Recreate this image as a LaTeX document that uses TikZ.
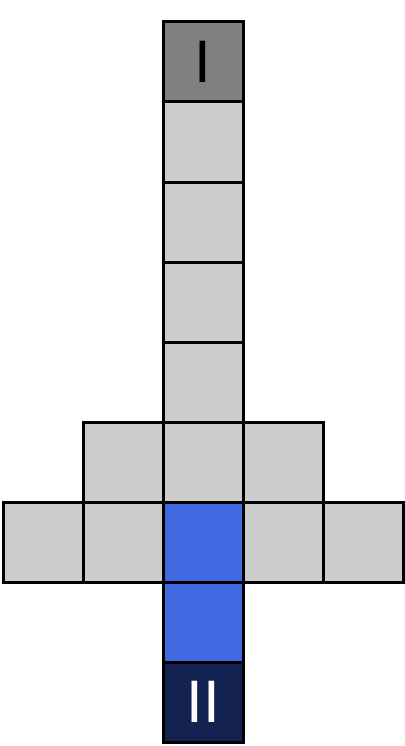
\documentclass[tikz,border=0pt]{standalone}
\usepackage{fontspec}
\setmainfont{Liberation Sans}
\definecolor{lgray}{HTML}{CCCCCC}
\definecolor{dgray}{HTML}{808080}
\definecolor{rblue}{HTML}{4169E1}
\definecolor{navy}{RGB}{19,34,80}
\begin{document}
\begin{tikzpicture}[x=1pt,y=-1pt,
  cell/.style={draw=black,line width=3pt,minimum size=80pt,inner sep=0pt,outer sep=0pt,fill=lgray,font=\fontsize{60}{60}\selectfont},
  topcell/.style={cell,fill=dgray},
  bluecell/.style={cell,fill=rblue},
  navycell/.style={cell,fill=navy,text=white}]
\useasboundingbox (0,0) rectangle (404,746);
\node[cell] (c2) at (203,142) {};
\node[cell] (c3) at (203,222) {};
\node[cell] (c4) at (203,302) {};
\node[cell] (c5) at (203,382) {};
\node[cell] (r6a) at (123,462) {};
\node[cell] (r6b) at (203,462) {};
\node[cell] (r6c) at (283,462) {};
\node[cell] (r7a) at (43,542) {};
\node[cell] (r7b) at (123,542) {};
\node[cell] (r7d) at (283,542) {};
\node[cell] (r7e) at (363,542) {};
\node[bluecell] (r7c) at (203,542) {};
\node[bluecell] (c8) at (203,622) {};
\node[topcell] (top) at (203,62) {I};
\node[navycell] (bot) at (203,702) {II};
\end{tikzpicture}
\end{document}
